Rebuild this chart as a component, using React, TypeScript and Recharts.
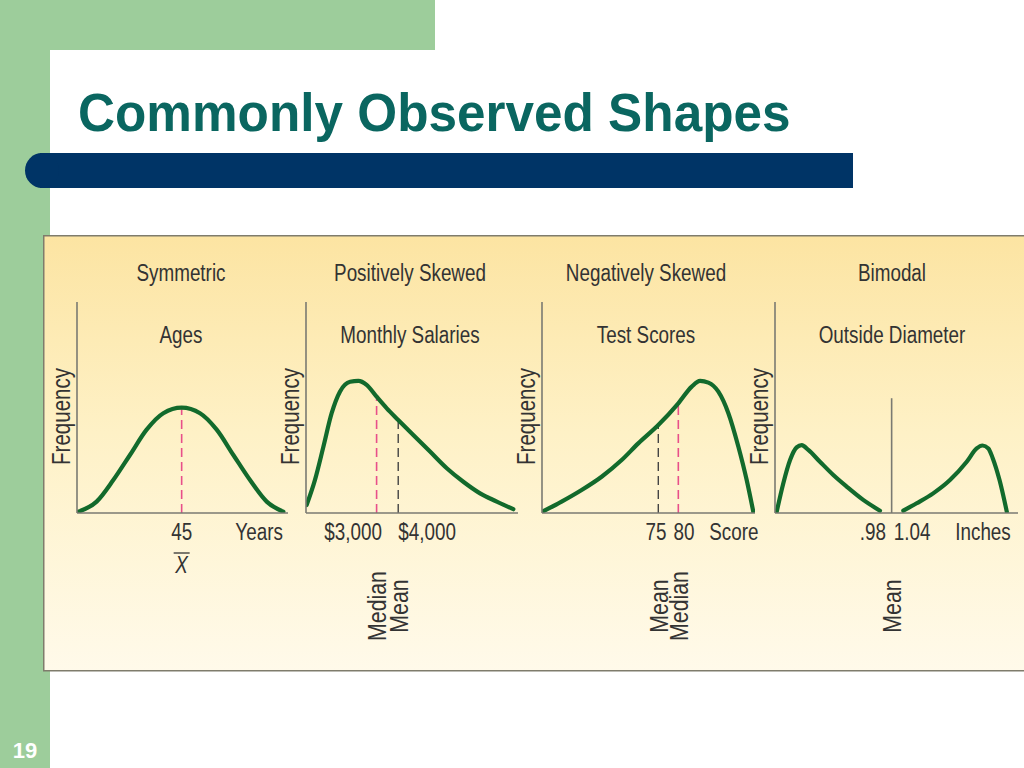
import React from "react";
import { LineChart, Line, XAxis, YAxis, ReferenceLine } from "recharts";

const NARROW = '"Liberation Sans", Arial, Helvetica, sans-serif';
const SANS = '"Liberation Sans", Arial, Helvetica, sans-serif';
const SX = 0.82; // horizontal condensing, like Arial Narrow

// ---------- Data (x: position along each panel's scale 0–100, f: relative frequency 0–100)
const agesX = [0.6, 9.3, 17.2, 25.1, 33.0, 40.9, 49.6, 58.3, 66.2, 74.1, 82.0, 89.9, 97.8];
const agesFreq = [0.6, 5.4, 15.6, 27.5, 39.5, 47.3, 49.9, 47.3, 39.5, 27.5, 15.6, 5.4, 0.6];

const salaryX = [0.3, 4.2, 8.2, 12.1, 16.0, 20.8, 24.7, 28.6, 33.3, 38.1, 43.5, 50.6, 58.5, 66.4, 74.2, 82.1, 90.0, 97.8];
const salaryFreq = [3.8, 15.6, 31.4, 47.3, 57.5, 62.2, 62.6, 60.7, 55.1, 49.6, 44.1, 37.0, 29.1, 21.2, 14.8, 9.3, 5.4, 1.8];

const scoreX = [0.1, 9.2, 18.6, 28.0, 37.4, 45.2, 54.6, 64.0, 70.3, 74.2, 78.1, 82.8, 87.5, 92.2, 96.1, 99.2];
const scoreFreq = [0.6, 5.4, 10.9, 17.2, 25.1, 33.0, 41.7, 52.0, 59.9, 62.6, 61.8, 57.5, 47.3, 31.4, 15.6, 0.6];

const diamLowX = [0.7, 3.4, 6.2, 8.9, 11.0, 13.7, 18.5, 24.0, 29.5, 36.3, 43.2];
const diamLowFreq = [0.6, 14.0, 25.1, 31.1, 32.2, 29.9, 24.3, 18.0, 12.5, 6.2, 1.1];
const diamHighX = [52.8, 58.3, 65.1, 72.0, 78.9, 83.0, 85.4, 87.8, 89.6, 92.4, 95.4];
const diamHighFreq = [1.1, 4.6, 9.3, 15.6, 24.3, 30.6, 32.0, 30.6, 26.0, 15.6, 0.6];

// ---------- Tick labels
const ageTicks = [49.6, 86.3];
const ageTickLabels = ["45", "Years"];
const ageTickSubs = ["X", ""];

const salaryTicks = [22.2, 57.1];
const salaryTickLabels = ["$3,000", "$4,000"];

const scoreTicks = [53.5, 66.7, 90.1];
const scoreTickLabels = ["75", "80", "Score"];

const diamTicks = [40.3, 56.4, 85.6];
const diamTickLabels = [".98", "1.04", "Inches"];

// ---------- Marker lines (position, height where it meets the curve, name, kind)
const ageMarkerX = [49.6];
const ageMarkerTop = [49.9];
const ageMarkerNames = [""];
const ageMarkerKinds = ["median"];

const salaryMarkerX = [33.3, 43.5];
const salaryMarkerTop = [55.1, 44.1];
const salaryMarkerNames = ["Median", "Mean"];
const salaryMarkerKinds = ["median", "mean"];

const scoreMarkerX = [54.6, 64.0];
const scoreMarkerTop = [41.7, 52.0];
const scoreMarkerNames = ["Mean", "Median"];
const scoreMarkerKinds = ["mean", "median"];

const diamMarkerX = [48.0];
const diamMarkerTop = [54.4];
const diamMarkerNames = ["Mean"];
const diamMarkerKinds = ["solid"];

// ---------- Titles
const panelTitles = ["Symmetric", "Positively Skewed", "Negatively Skewed", "Bimodal"];
const panelSubtitles = ["Ages", "Monthly Salaries", "Test Scores", "Outside Diameter"];

const rows = (xs: number[], fs: number[]) => xs.map((x, i) => ({ x, f: fs[i] }));

// ---------- Styles
const TEXT = "#333333";
const AXIS = "#7a7a72";
const CURVE = "#126a2c";
const PINK = "#e84f8a";
const DARK = "#444444";

const PLOT_TOP = 302;
const PLOT_H = 211;
const CHART_TOP = 290;
const CHART_H = 375;
const YW = 40;
const MR = 4;

const panelLefts = [77, 306, 542, 775];
const panelWidths = [211, 212, 213, 243];
const titleCenters = [181, 410, 646, 892];

type NTextProps = {
  x: number;
  y: number;
  size: number;
  rotate?: number;
  anchor?: "start" | "middle" | "end";
  central?: boolean;
  italic?: boolean;
  children: React.ReactNode;
};

function NText({ x, y, size, rotate, anchor = "middle", central, italic, children }: NTextProps) {
  const rot = rotate ? ` rotate(${rotate})` : "";
  return (
    <text
      x={0}
      y={0}
      transform={`translate(${x},${y})${rot} scale(${SX},1)`}
      textAnchor={anchor}
      dominantBaseline={central ? "central" : undefined}
      fontFamily={NARROW}
      fontStyle={italic ? "italic" : undefined}
      fontSize={size}
      fill={TEXT}
    >
      {children}
    </text>
  );
}

const FreqLabel = (props: any) => {
  const vb = props.viewBox || {};
  const cx = vb.x + vb.width - 16;
  const cy = vb.y + vb.height / 2 + 9;
  return (
    <NText x={cx} y={cy} size={25} rotate={-90} central>
      Frequency
    </NText>
  );
};

const makeTick = (ticks: number[], labels: string[], subs?: string[]) => (props: any) => {
  const { x, y, payload } = props;
  const i = ticks.indexOf(payload.value);
  const sub = subs ? subs[i] : "";
  return (
    <g>
      <NText x={x} y={y + 27} size={23}>
        {labels[i]}
      </NText>
      {sub ? (
        <g>
          <line x1={x - 8} x2={x + 8} y1={y + 40} y2={y + 40} stroke={TEXT} strokeWidth={1.3} />
          <NText x={x} y={y + 60} size={23} italic>
            {sub}
          </NText>
        </g>
      ) : null}
    </g>
  );
};

const makeMarkerLabel = (name: string) => (props: any) => {
  if (!name) return null;
  const vb = props.viewBox || {};
  const cx = vb.x;
  const cy = vb.y + vb.height + 93;
  return (
    <NText x={cx} y={cy} size={26} rotate={-90} central>
      {name}
    </NText>
  );
};

const markerStyle = (kind: string) => {
  if (kind === "median") return { stroke: PINK, strokeWidth: 1.6, strokeDasharray: "9 5" };
  if (kind === "mean") return { stroke: DARK, strokeWidth: 1.4, strokeDasharray: "9 5" };
  return { stroke: AXIS, strokeWidth: 1.6 };
};

type PanelProps = {
  idx: number;
  series: { x: number; f: number }[][];
  ticks: number[];
  tickLabels: string[];
  tickSubs?: string[];
  markerX: number[];
  markerTop: number[];
  markerNames: string[];
  markerKinds: string[];
};

function Panel(p: PanelProps) {
  const left = panelLefts[p.idx];
  const w = panelWidths[p.idx];
  return (
    <div style={{ position: "absolute", left: left - YW, top: CHART_TOP }}>
      <LineChart
        width={w + YW + MR}
        height={CHART_H}
        margin={{ top: PLOT_TOP - CHART_TOP, right: MR, bottom: 0, left: 0 }}
        style={{ overflow: "visible" }}
      >
        <XAxis
          dataKey="x"
          type="number"
          domain={[0, 100]}
          ticks={p.ticks}
          interval={0}
          tickSize={0}
          tickMargin={0}
          tickLine={false}
          allowDataOverflow
          axisLine={{ stroke: AXIS, strokeWidth: 1.6 }}
          height={CHART_H - (PLOT_TOP - CHART_TOP) - PLOT_H}
          tick={makeTick(p.ticks, p.tickLabels, p.tickSubs)}
        />
        <YAxis
          type="number"
          domain={[0, 100]}
          width={YW}
          tick={false}
          tickLine={false}
          allowDataOverflow
          axisLine={{ stroke: AXIS, strokeWidth: 1.6 }}
          label={FreqLabel}
        />
        {p.markerX.map((mx, i) => (
          <ReferenceLine
            key={"m" + i}
            segment={[
              { x: mx, y: 0 },
              { x: mx, y: p.markerTop[i] },
            ]}
            {...markerStyle(p.markerKinds[i])}
            label={makeMarkerLabel(p.markerNames[i])}
          />
        ))}
        {p.series.map((s, i) => (
          <Line
            key={"s" + i}
            data={s}
            dataKey="f"
            type="monotone"
            stroke={CURVE}
            strokeWidth={4.2}
            strokeLinecap="round"
            dot={false}
            activeDot={false}
            isAnimationActive={false}
          />
        ))}
      </LineChart>
    </div>
  );
}

export default function App() {
  return (
    <div
      style={{
        position: "absolute",
        left: 0,
        top: 0,
        width: 1024,
        height: 768,
        overflow: "hidden",
        background: "#ffffff",
      }}
    >
      <svg width={1024} height={768} style={{ position: "absolute", left: 0, top: 0 }}>
        <defs>
          <linearGradient id="panelBg" x1="0" y1="0" x2="0" y2="1">
            <stop offset="0%" stopColor="#fce4a2" />
            <stop offset="45%" stopColor="#fef1c6" />
            <stop offset="100%" stopColor="#fffaea" />
          </linearGradient>
        </defs>
        <rect x={0} y={0} width={435} height={50} fill="#9dcd9b" />
        <rect x={0} y={0} width={50} height={768} fill="#9dcd9b" />
        <rect x={50} y={50} width={1100} height={900} rx={26} ry={26} fill="#ffffff" />
        <text
          x={0}
          y={0}
          transform={`translate(78,131) scale(0.95,1)`}
          fontFamily={SANS}
          fontWeight="bold"
          fontSize={54}
          fill="#0a6660"
        >
          Commonly Observed Shapes
        </text>
        <rect x={40} y={153} width={813} height={35} fill="#003466" />
        <ellipse cx={42} cy={170.5} rx={17} ry={17.5} fill="#003466" />
        <rect x={43.75} y={235.75} width={990} height={435} fill="url(#panelBg)" stroke="#7f7c6c" strokeWidth={1.5} />
        {panelTitles.map((t, i) => (
          <NText key={"t" + i} x={titleCenters[i]} y={281} size={23}>
            {t}
          </NText>
        ))}
        {panelSubtitles.map((t, i) => (
          <NText key={"st" + i} x={titleCenters[i]} y={343} size={23}>
            {t}
          </NText>
        ))}
        <text x={25} y={758} textAnchor="middle" fontFamily={SANS} fontWeight="bold" fontSize={22} fill="#ffffff">
          19
        </text>
      </svg>
      <Panel
        idx={0}
        series={[rows(agesX, agesFreq)]}
        ticks={ageTicks}
        tickLabels={ageTickLabels}
        tickSubs={ageTickSubs}
        markerX={ageMarkerX}
        markerTop={ageMarkerTop}
        markerNames={ageMarkerNames}
        markerKinds={ageMarkerKinds}
      />
      <Panel
        idx={1}
        series={[rows(salaryX, salaryFreq)]}
        ticks={salaryTicks}
        tickLabels={salaryTickLabels}
        markerX={salaryMarkerX}
        markerTop={salaryMarkerTop}
        markerNames={salaryMarkerNames}
        markerKinds={salaryMarkerKinds}
      />
      <Panel
        idx={2}
        series={[rows(scoreX, scoreFreq)]}
        ticks={scoreTicks}
        tickLabels={scoreTickLabels}
        markerX={scoreMarkerX}
        markerTop={scoreMarkerTop}
        markerNames={scoreMarkerNames}
        markerKinds={scoreMarkerKinds}
      />
      <Panel
        idx={3}
        series={[rows(diamLowX, diamLowFreq), rows(diamHighX, diamHighFreq)]}
        ticks={diamTicks}
        tickLabels={diamTickLabels}
        markerX={diamMarkerX}
        markerTop={diamMarkerTop}
        markerNames={diamMarkerNames}
        markerKinds={diamMarkerKinds}
      />
    </div>
  );
}
